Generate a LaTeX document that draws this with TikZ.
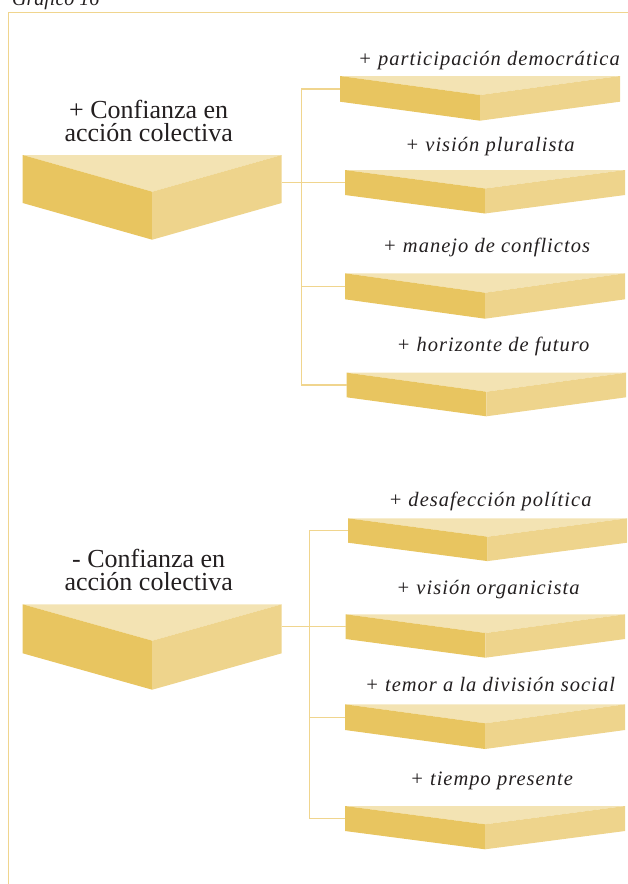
\documentclass[tikz,border=0pt]{standalone}
\usepackage{fontspec}
\setmainfont{Liberation Serif}
\newfontfamily\itemfont[LetterSpace=5]{Liberation Serif}
\usetikzlibrary{calc}

\definecolor{topc}{HTML}{F3E3B3}
\definecolor{leftc}{HTML}{E8C560}
\definecolor{rightc}{HTML}{EED48C}
\definecolor{linec}{HTML}{F0D58E}
\definecolor{ink}{HTML}{231F20}

\tikzset{
  prism/.style={rectangle, inner sep=0pt, outer sep=0pt, anchor=north west},
  link/.style={draw=linec, line width=1.3pt},
  title/.style={font=\fontsize{26}{22.5}\selectfont, align=center, text=ink, inner sep=0pt},
  item/.style={font=\itemfont\itshape\fontsize{20.5}{24}\selectfont, text=ink, anchor=base, inner sep=0pt},
}

% the three faces of a chevron box: #1 node, #2 drop of the middle edge
\newcommand{\faces}[2]{%
  \fill[topc] (#1.north west) -- (#1.north east) -- ($(#1.north)+(0,#2)$) -- cycle;
  \fill[leftc] (#1.north west) -- ($(#1.north)+(0,#2)$) -- ($(#1.south)+(0,#2)$) -- (#1.south west) -- cycle;
  \fill[rightc] (#1.north east) -- ($(#1.north)+(0,#2)$) -- ($(#1.south)+(0,#2)$) -- (#1.south east) -- cycle;
}

\begin{document}
\begin{tikzpicture}[x=1pt,y=-1pt]
  \useasboundingbox (0,0) rectangle (628,884);

  % FRAME
  \node[font=\itshape\fontsize{20}{24}\selectfont, text=ink, anchor=base west, inner sep=0pt] (cap) at (12,5.5) {Gráfico 16};
  \draw[linec, line width=1.3pt] (8.3,884) -- (8.3,12.5) -- (628,12.5);

  % MORE TRUST
  \node[title] (thi) at (148.7,121) {+ Confianza en\\acción colectiva};
  \node[prism, minimum width=259pt, minimum height=48pt] (hi) at (22.7,155) {};
  \faces{hi}{36.7}

  \node[item] (th1) at (489,65) {+ participación democrática};
  \node[prism, minimum width=280pt, minimum height=25.7pt] (h1) at (340,76) {};
  \faces{h1}{19}

  \node[item] (th2) at (490,151) {+ visión pluralista};
  \node[prism, minimum width=280pt, minimum height=25pt] (h2) at (345,170) {};
  \faces{h2}{18.5}

  \node[item] (th3) at (486.5,252.3) {+ manejo de conflictos};
  \node[prism, minimum width=280pt, minimum height=26pt] (h3) at (345,273.3) {};
  \faces{h3}{19.4}

  \node[item] (th4) at (493,351.7) {+ horizonte de futuro};
  \node[prism, minimum width=279.3pt, minimum height=24.6pt] (h4) at (346.7,372.7) {};
  \faces{h4}{19}

  % LESS TRUST
  \node[title] (tlo) at (148.7,570) {- Confianza en\\acción colectiva};
  \node[prism, minimum width=259pt, minimum height=49pt] (lo) at (22.7,604.3) {};
  \faces{lo}{36.4}

  \node[item] (tl1) at (490,506.7) {+ desafección política};
  \node[prism, minimum width=279pt, minimum height=24.4pt] (l1) at (348,518.3) {};
  \faces{l1}{18.4}

  \node[item] (tl2) at (488,594.3) {+ visión organicista};
  \node[prism, minimum width=279.3pt, minimum height=24.7pt] (l2) at (345.7,614.3) {};
  \faces{l2}{18.7}

  \node[item] (tl3) at (490,691.7) {+ temor a la división social};
  \node[prism, minimum width=280pt, minimum height=25.7pt] (l3) at (345,704.3) {};
  \faces{l3}{19}

  \node[item] (tl4) at (491.5,785) {+ tiempo presente};
  \node[prism, minimum width=280pt, minimum height=25pt] (l4) at (345,806) {};
  \faces{l4}{18.3}

  % LINES
  \coordinate (ht) at (301.7,0);
  \draw[link] (h1.west) -| (ht |- h4.west) -- (h4.west);
  \draw[link] (h3.west) -- (h3.west -| ht);
  \draw[link] (hi.east |- h2.west) -- (h2.west);

  \coordinate (lt) at (309.5,0);
  \draw[link] (l1.west) -| (lt |- l4.west) -- (l4.west);
  \draw[link] (l3.west) -- (l3.west -| lt);
  \draw[link] (lo.east |- l2.west) -- (l2.west);
\end{tikzpicture}
\end{document}
